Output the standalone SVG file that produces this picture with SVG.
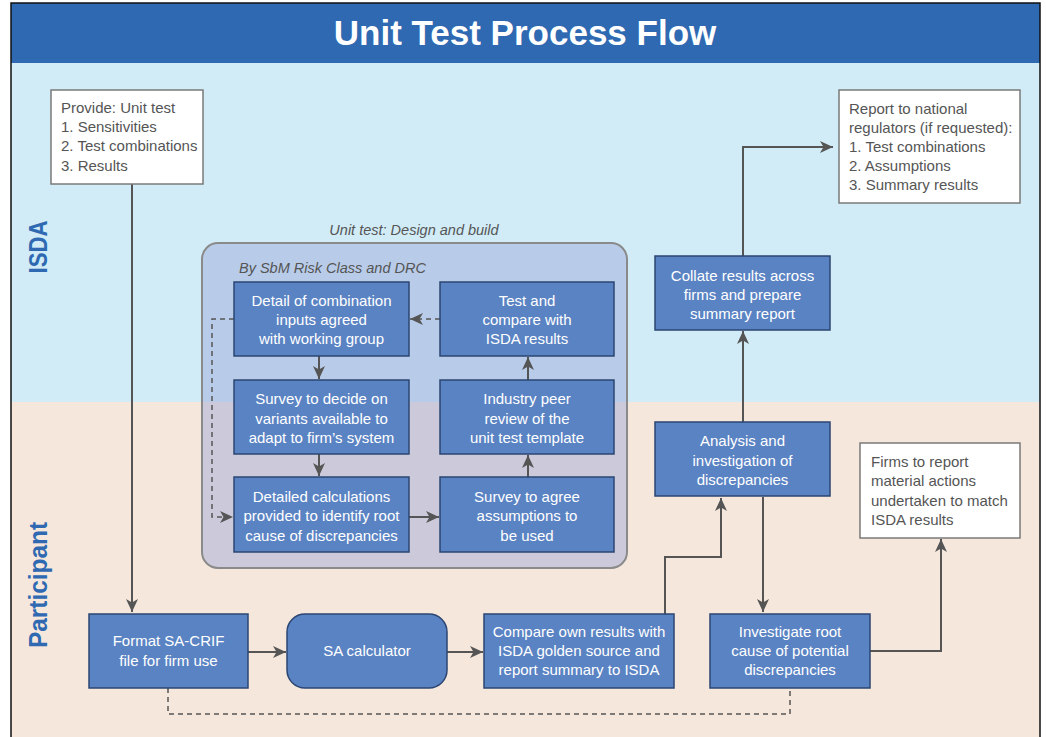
<svg xmlns="http://www.w3.org/2000/svg" width="1046" height="737" viewBox="0 0 1046 737">
<defs>
<style>
.box{fill:#5A83C3;stroke:#2B4672;stroke-width:1.5}
.note{fill:#ffffff;stroke:#7a7a7a;stroke-width:1.5}
.bt{font-family:"Liberation Sans",Arial,sans-serif;font-size:15px;fill:#ffffff;text-anchor:middle;dominant-baseline:central}
.nt{font-family:"Liberation Sans",Arial,sans-serif;font-size:15px;fill:#555555}
.it{font-family:"Liberation Sans",Arial,sans-serif;font-size:14.5px;fill:#555555;font-style:italic}
.lane{font-family:"Liberation Sans",Arial,sans-serif;font-size:25px;font-weight:bold;fill:#2E69B2;text-anchor:middle;dominant-baseline:central}
.c{fill:none;stroke:#555555;stroke-width:2}
.d{fill:none;stroke:#555555;stroke-width:1.5;stroke-dasharray:5,4}
</style>
<marker id="arr" markerUnits="userSpaceOnUse" markerWidth="14" markerHeight="12" viewBox="0 0 14 12" refX="13" refY="6" orient="auto">
<path d="M0,0 L13,6 L0,12 L3.5,6 z" fill="#555555"/>
</marker>
</defs>

<g id="background">
<rect x="11" y="3" width="1029" height="740" fill="#F6E7DC"/>
<rect x="11" y="63" width="1029" height="339" fill="#D1ECF7"/>
<rect x="11" y="3" width="1029" height="60" fill="#2E69B2"/>
<text x="525" y="45" font-family="'Liberation Sans',Arial,sans-serif" font-size="35" font-weight="bold" fill="#ffffff" text-anchor="middle">Unit Test Process Flow</text>
<rect x="11" y="3" width="1029" height="740" fill="none" stroke="#111111" stroke-width="1.5"/>
</g>

<g id="lane-isda">
<text class="lane" transform="translate(38,247) rotate(-90)" textLength="53" lengthAdjust="spacingAndGlyphs">ISDA</text>
</g>
<g id="lane-participant">
<text class="lane" transform="translate(38,585) rotate(-90)" textLength="126" lengthAdjust="spacingAndGlyphs">Participant</text>
</g>

<g id="group-unit-test">
<text class="it" x="414" y="235" text-anchor="middle">Unit test: Design and build</text>
<rect x="202" y="243" width="425" height="325" rx="16" fill="#98A6D8" fill-opacity="0.45" stroke="#8A8A8A" stroke-width="2"/>
<text class="it" x="239" y="273">By SbM Risk Class and DRC</text>
</g>

<g id="connectors">
<path class="c" d="M132,184 V612" marker-end="url(#arr)"/>
<path class="c" d="M248,652 H286" marker-end="url(#arr)"/>
<path class="c" d="M447,652 H483" marker-end="url(#arr)"/>
<path class="c" d="M665,614 V557 H721 V498" marker-end="url(#arr)"/>
<path class="c" d="M763,497 V612" marker-end="url(#arr)"/>
<path class="c" d="M870,651 H941 V539" marker-end="url(#arr)"/>
<path class="c" d="M743,422 V331" marker-end="url(#arr)"/>
<path class="c" d="M743,256 V147 H833" marker-end="url(#arr)"/>
<path class="d" d="M168,688 V714 H790 V688"/>
<path class="c" d="M319,356 V379" marker-end="url(#arr)"/>
<path class="c" d="M319,454 V476" marker-end="url(#arr)"/>
<path class="c" d="M409,517 H439" marker-end="url(#arr)"/>
<path class="c" d="M528,477 V455" marker-end="url(#arr)"/>
<path class="c" d="M528,380 V357" marker-end="url(#arr)"/>
<path class="d" d="M440,319 H410" marker-end="url(#arr)"/>
<path class="d" d="M234,319 H212 V517 H233" marker-end="url(#arr)"/>
</g>

<g id="provide">
<rect class="note" x="51" y="90" width="152" height="94"/>
<text class="nt" x="61" y="113">Provide: Unit test</text>
<text class="nt" x="61" y="132">1. Sensitivities</text>
<text class="nt" x="61" y="151">2. Test combinations</text>
<text class="nt" x="61" y="171">3. Results</text>
</g>

<g id="report">
<rect class="note" x="839" y="90" width="181" height="113"/>
<text class="nt" x="849" y="114">Report to national</text>
<text class="nt" x="849" y="133">regulators (if requested):</text>
<text class="nt" x="849" y="152">1. Test combinations</text>
<text class="nt" x="849" y="171">2. Assumptions</text>
<text class="nt" x="849" y="190">3. Summary results</text>
</g>

<g id="firms">
<rect class="note" x="860" y="443" width="160" height="95"/>
<text class="nt" x="871" y="467">Firms to report</text>
<text class="nt" x="871" y="486">material actions</text>
<text class="nt" x="871" y="506">undertaken to match</text>
<text class="nt" x="871" y="525">ISDA results</text>
</g>

<g id="detail">
<rect class="box" x="234" y="282" width="175" height="74"/>
<text class="bt" x="321.5" y="300">Detail of combination</text>
<text class="bt" x="321.5" y="319">inputs agreed</text>
<text class="bt" x="321.5" y="338">with working group</text>
</g>

<g id="test-compare">
<rect class="box" x="440" y="282" width="174" height="74"/>
<text class="bt" x="527" y="300">Test and</text>
<text class="bt" x="527" y="319">compare with</text>
<text class="bt" x="527" y="338">ISDA results</text>
</g>

<g id="survey-decide">
<rect class="box" x="234" y="380" width="175" height="74"/>
<text class="bt" x="321.5" y="398">Survey to decide on</text>
<text class="bt" x="321.5" y="418">variants available to</text>
<text class="bt" x="321.5" y="437">adapt to firm’s system</text>
</g>

<g id="industry-peer">
<rect class="box" x="440" y="380" width="174" height="74"/>
<text class="bt" x="527" y="398">Industry peer</text>
<text class="bt" x="527" y="418">review of the</text>
<text class="bt" x="527" y="437">unit test template</text>
</g>

<g id="detailed-calc">
<rect class="box" x="234" y="477" width="175" height="75"/>
<text class="bt" x="321.5" y="496">Detailed calculations</text>
<text class="bt" x="321.5" y="515">provided to identify root</text>
<text class="bt" x="321.5" y="535">cause of discrepancies</text>
</g>

<g id="survey-agree">
<rect class="box" x="440" y="477" width="174" height="75"/>
<text class="bt" x="527" y="496">Survey to agree</text>
<text class="bt" x="527" y="515">assumptions to</text>
<text class="bt" x="527" y="535">be used</text>
</g>

<g id="collate">
<rect class="box" x="655" y="256" width="175" height="74"/>
<text class="bt" x="742.5" y="275">Collate results across</text>
<text class="bt" x="742.5" y="294">firms and prepare</text>
<text class="bt" x="742.5" y="313">summary report</text>
</g>

<g id="analysis">
<rect class="box" x="655" y="422" width="175" height="74"/>
<text class="bt" x="742.5" y="440">Analysis and</text>
<text class="bt" x="742.5" y="460">investigation of</text>
<text class="bt" x="742.5" y="479">discrepancies</text>
</g>

<g id="format">
<rect class="box" x="89" y="614" width="159" height="74"/>
<text class="bt" x="168.5" y="640">Format SA-CRIF</text>
<text class="bt" x="168.5" y="660">file for firm use</text>
</g>

<g id="sa-calculator">
<rect class="box" x="287" y="614" width="160" height="74" rx="18"/>
<text class="bt" x="367" y="650">SA calculator</text>
</g>

<g id="compare">
<rect class="box" x="484" y="614" width="190" height="74"/>
<text class="bt" x="579" y="631">Compare own results with</text>
<text class="bt" x="579" y="650">ISDA golden source and</text>
<text class="bt" x="579" y="669">report summary to ISDA</text>
</g>

<g id="investigate">
<rect class="box" x="710" y="614" width="160" height="74"/>
<text class="bt" x="790" y="631">Investigate root</text>
<text class="bt" x="790" y="650">cause of potential</text>
<text class="bt" x="790" y="669">discrepancies</text>
</g>
</svg>
